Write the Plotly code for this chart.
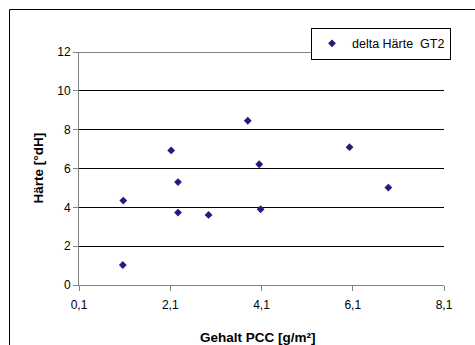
import plotly.graph_objects as go

gehalt = [1.07, 1.06, 2.12, 2.27, 2.27, 2.94, 3.80, 4.05, 4.08, 6.03, 6.88]
haerte = [4.35, 1.03, 6.93, 5.30, 3.73, 3.61, 8.46, 6.22, 3.90, 7.10, 5.02]
x_ticks = [0.1, 2.1, 4.1, 6.1, 8.1]
y_ticks = [0, 2, 4, 6, 8, 10, 12]
x_title = "Gehalt PCC [g/m²]"
y_title = "Härte [°dH]"

fig = go.Figure()
fig.add_trace(go.Scatter(
    x=gehalt, y=haerte, mode="markers", name="delta Härte  GT2",
    marker=dict(symbol="diamond", size=6, color="#1F1F78"),
))

W, H = 475, 345
ml, mr, mt, mb = 79, 31, 52, 60
pw, ph = W - ml - mr, H - mt - mb

fig.update_layout(
    width=W, height=H,
    margin=dict(l=ml, r=mr, t=mt, b=mb),
    paper_bgcolor="white", plot_bgcolor="white",
    separators=",.",
    font=dict(family="Liberation Sans, Arial", size=12, color="black"),
    showlegend=True,
    legend=dict(
        x=(311 - ml) / pw, y=(H - mb - 27.7) / ph,
        xanchor="left", yanchor="top",
        bgcolor="white", bordercolor="black", borderwidth=1,
        font=dict(size=12.5), itemwidth=30,
    ),
    xaxis=dict(
        range=[0.1, 8.1], tickvals=x_ticks, tickformat=".1f",
        showgrid=False, zeroline=False, automargin=False,
        showline=True, linecolor="#808080", linewidth=1,
        ticks="outside", ticklen=5, tickcolor="#808080",
        ticklabelstandoff=4,
    ),
    yaxis=dict(
        range=[0, 12], tickvals=y_ticks,
        showgrid=True, gridcolor="black", gridwidth=1,
        zeroline=False, automargin=False,
        showline=True, linecolor="#808080", linewidth=1,
        ticks="outside", ticklen=5, tickcolor="#808080",
    ),
    annotations=[
        dict(text="<b>" + x_title + "</b>", xref="paper", yref="paper",
             x=(258 - ml) / pw, y=(H - mb - 337) / ph,
             xanchor="center", yanchor="middle", showarrow=False,
             font=dict(size=13.5)),
        dict(text="<b>" + y_title + "</b>", xref="paper", yref="paper",
             x=(38 - ml) / pw, y=0.5, textangle=-90,
             xanchor="center", yanchor="middle", showarrow=False,
             font=dict(size=13.5)),
    ],
)

# top gridline at y = 12
fig.add_shape(type="line", xref="paper", yref="y", layer="below",
              x0=0, x1=1, y0=y_ticks[-1], y1=y_ticks[-1],
              line=dict(color="black", width=1))

# outer chart-area border (top and left visible)
fig.add_shape(type="line", xref="paper", yref="paper",
              x0=(9.5 - ml) / pw, x1=(W + 5 - ml) / pw,
              y0=(H - mb - 9.5) / ph, y1=(H - mb - 9.5) / ph,
              line=dict(color="black", width=1))
fig.add_shape(type="line", xref="paper", yref="paper",
              x0=(9.5 - ml) / pw, x1=(9.5 - ml) / pw,
              y0=(H - mb - 9.5) / ph, y1=(-mb - 5) / ph,
              line=dict(color="black", width=1))

fig.write_html("out.html")
